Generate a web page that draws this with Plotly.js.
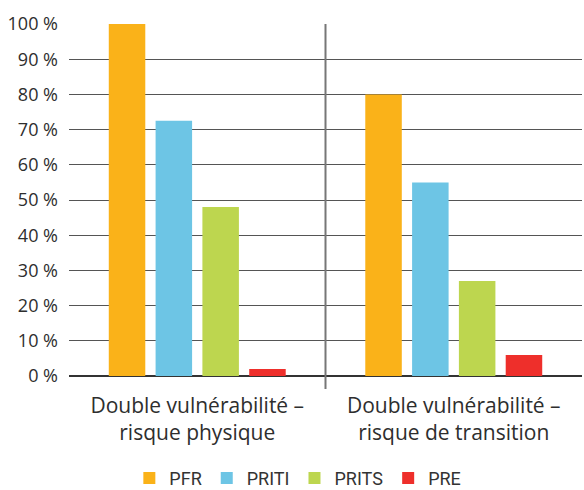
<!DOCTYPE html>
<html>
<head>
<meta charset="utf-8">
<script src="https://cdn.plot.ly/plotly-3.0.1.min.js"></script>
<style>
  html, body { margin: 0; padding: 0; background: #fff; }
  #chart { width: 584px; height: 490px; }
</style>
</head>
<body>
<div id="chart"></div>
<script>
// Groups along the x axis
const categories = [
  "Double vulnérabilité –<br>risque physique",
  "Double vulnérabilité –<br>risque de transition"
];

// Share of each portfolio (%)
const seriesNames = ["PFR", "PRITI", "PRITS", "PRE"];
const pfr   = [100, 80];
const priti = [72.5, 55];
const prits = [48, 27];
const pre   = [2, 6];

const colors = ["#FAB219", "#6DC5E5", "#BDD64F", "#EE2F2B"];
const yTicks = [0, 10, 20, 30, 40, 50, 60, 70, 80, 90, 100];

const values = [pfr, priti, prits, pre];
const traces = seriesNames.map((name, i) => ({
  type: "bar",
  name: name,
  x: categories,
  y: values[i],
  marker: { color: colors[i], line: { width: 0 } },
  hoverinfo: "skip"
}));

const layout = {
  width: 584,
  height: 490,
  margin: { l: 69, r: 2, t: 24, b: 114 },
  paper_bgcolor: "#fff",
  plot_bgcolor: "#fff",
  barmode: "group",
  bargap: 0.27,
  bargroupgap: 0.22,
  font: { family: "Open Sans, sans-serif", size: 17, color: "#333" },
  xaxis: {
    type: "category",
    showgrid: false,
    showline: false,
    zeroline: false,
    ticks: "",
    tickfont: { family: "Open Sans, sans-serif", size: 21, color: "#2e2e2e" },
    ticklabelstandoff: 15
  },
  yaxis: {
    range: [0, 100],
    tickvals: yTicks,
    ticktext: yTicks.map(v => v + " %"),
    showgrid: true,
    gridcolor: "#555",
    gridwidth: 1,
    zeroline: true,
    zerolinecolor: "#333",
    zerolinewidth: 2,
    showline: false,
    ticks: "",
    ticklabelstandoff: 10,
    tickfont: { family: "Open Sans, sans-serif", size: 18, color: "#2e2e2e" }
  },
  shapes: [{
    type: "line",
    xref: "x",
    yref: "paper",
    x0: 0.5, x1: 0.5,
    y0: -0.037, y1: 1,
    line: { color: "#777", width: 2 }
  }],
  legend: {
    orientation: "h",
    xref: "container",
    yref: "container",
    x: 0.51,
    xanchor: "center",
    y: 0.024,
    yanchor: "middle",
    font: { family: "Roboto, sans-serif", size: 18, color: "#333" },
    itemclick: false,
    itemdoubleclick: false
  },
  showlegend: true
};

Plotly.newPlot("chart", traces, layout, { displayModeBar: false, staticPlot: true });
</script>
</body>
</html>
